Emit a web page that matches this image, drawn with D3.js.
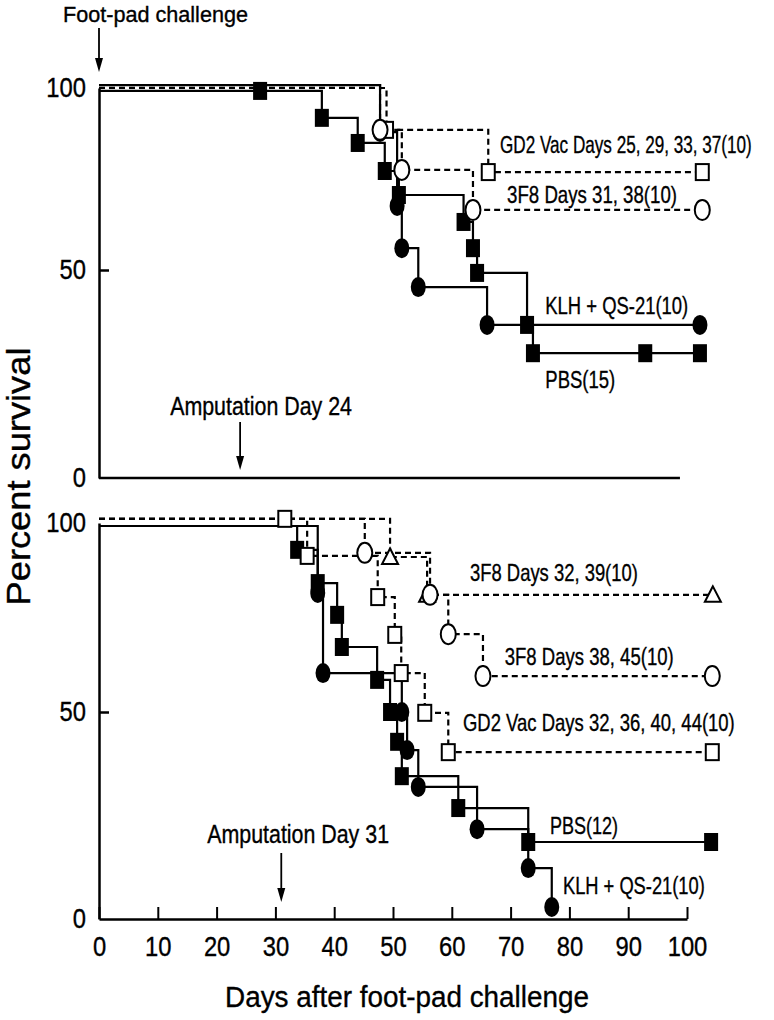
<!DOCTYPE html>
<html><head><meta charset="utf-8">
<script src="https://cdn.jsdelivr.net/npm/d3@7"></script>
<style>
body{margin:0;background:#fff}
svg text{font-family:"Liberation Sans",Arial,Helvetica,sans-serif;fill:#000;stroke:#000;stroke-width:0.35px}
</style>
</head><body>
<svg id="chart" width="774" height="1020"></svg>
<script>
// ---------- data ----------
const dayTicks = [0, 10, 20, 30, 40, 50, 60, 70, 80, 90, 100];
const survTicks = [0, 50, 100];

// Upper panel (amputation day 24)
const topPbsDay  = [0, 27.4, 37.9, 44.0, 48.6, 51.0, 62.0, 63.6, 64.3, 72.8, 73.8, 92.9, 102.2];
const topPbsSurv = [99.2, 99.2, 91.8, 84.9, 77.2, 70.6, 63.2, 56.0, 49.3, 36.8, 30.0, 30.0, 30.0];
const topKlhDay  = [0, 47.8, 50.7, 51.5, 54.3, 66.0, 102.2];
const topKlhSurv = [100.8, 87.9, 67.6, 56.0, 45.9, 36.8, 36.8];
const topGd2Day  = [0, 48.9, 66.2, 102.6];
const topGd2Surv = [100, 88.5, 76.9, 76.9];
const top3f8Day  = [0, 47.8, 51.5, 63.6, 102.6];
const top3f8Surv = [100.8, 88.5, 77.5, 66.5, 66.5];

// Lower panel (amputation day 31)
const botPbsDay  = [0, 33.7, 37.2, 40.5, 41.3, 47.3, 49.5, 50.7, 51.5, 61.1, 73.0, 104.1];
const botPbsSurv = [99.2, 92.9, 84.1, 75.7, 67.2, 58.5, 50.0, 42.8, 34.5, 26.8, 18.6, 18.6];
const botKlhDay  = [0, 37.2, 38.1, 51.5, 52.4, 54.3, 64.3, 73.0, 77.0];
const botKlhSurv = [99.2, 81.5, 60.3, 50.0, 40.8, 31.9, 21.7, 12.3, 2.9];
const botGd2Day  = [0, 31.6, 35.4, 47.4, 50.3, 51.4, 55.4, 59.4, 104.3];
const botGd2Surv = [101.1, 101.1, 91.3, 80.4, 70.4, 60.3, 49.8, 40.3, 40.3];
const bot3f8aDay  = [0, 49.5, 55.8, 104.4];
const bot3f8aSurv = [101.1, 91.0, 81.0, 81.0];
const bot3f8bDay  = [0, 45.2, 56.3, 59.4, 65.3, 104.3];
const bot3f8bSurv = [101.1, 92.1, 81.0, 70.6, 59.5, 59.5];

const topLabels = ["GD2 Vac Days 25, 29, 33, 37(10)", "3F8 Days 31, 38(10)", "KLH + QS-21(10)", "PBS(15)"];
const botLabels = ["3F8 Days 32, 39(10)", "3F8 Days 38, 45(10)", "GD2 Vac Days 32, 36, 40, 44(10)", "PBS(12)", "KLH + QS-21(10)"];
const eventLabels = ["Foot-pad challenge", "Amputation Day 24", "Amputation Day 31"];
const axisTitles = ["Percent survival", "Days after foot-pad challenge"];

// ---------- layout ----------
const svg = d3.select("#chart");
const x = d3.scaleLinear().domain([0, 100]).range([99, 687]);
const yTop = d3.scaleLinear().domain([0, 50, 100]).range([478, 270, 88]);
const yBot = d3.scaleLinear().domain([0, 50, 100]).range([919, 712, 523]);

const zip = (a, b) => a.map((d, i) => [d, b[i]]);

function condense(sel, k) {
  sel.each(function () {
    const w = this.getComputedTextLength();
    d3.select(this).attr("textLength", w * k).attr("lengthAdjust", "spacingAndGlyphs");
  });
}
// text squeezed horizontally to a measured width (condensed face of the original)
function fitText(g, txt, px, py, size, width, anchor, rot) {
  const t = g.append("text").attr("font-size", size).attr("text-anchor", anchor || "start").text(txt);
  const k = width / t.node().getComputedTextLength();
  t.attr("transform", `translate(${px},${py})${rot ? " rotate(" + rot + ")" : ""} scale(${k},1)`);
  return t;
}

function drawMarker(g, shape, filled, cx, cy) {
  if (shape === "square") {
    if (filled) g.append("rect").attr("x", cx - 7).attr("y", cy - 9).attr("width", 14).attr("height", 18).attr("fill", "#000");
    else g.append("rect").attr("x", cx - 6.5).attr("y", cy - 8).attr("width", 13).attr("height", 16)
      .attr("fill", "#fff").attr("stroke", "#000").attr("stroke-width", 2);
  } else if (shape === "circle") {
    if (filled) g.append("ellipse").attr("cx", cx).attr("cy", cy).attr("rx", 7.5).attr("ry", 10).attr("fill", "#000");
    else g.append("ellipse").attr("cx", cx).attr("cy", cy).attr("rx", 7.5).attr("ry", 10)
      .attr("fill", "#fff").attr("stroke", "#000").attr("stroke-width", 2);
  } else {
    g.append("path").attr("d", `M${cx},${cy - 8.5}L${cx - 8},${cy + 7}L${cx + 8},${cy + 7}Z`)
      .attr("fill", "#fff").attr("stroke", "#000").attr("stroke-width", 2);
  }
}

function drawSeries(y, list) {
  const g = svg.append("g");
  const ln = d3.line().x(d => x(d[0])).y(d => y(d[1])).curve(d3.curveStepAfter);
  list.forEach(s => {
    g.append("path").datum(s.pts).attr("d", ln).attr("fill", "none")
      .attr("stroke", "#000").attr("stroke-width", 2.2)
      .attr("stroke-dasharray", s.dashed ? "6,4" : null);
  });
  list.forEach(s => {
    s.pts.slice(1).forEach(p => drawMarker(g, s.shape, s.filled, x(p[0]), y(p[1])));
  });
}

function drawYAxis(y) {
  const g = svg.append("g").attr("transform", `translate(${x(0)},0)`)
    .call(d3.axisLeft(y).tickValues(survTicks).tickSize(-10).tickSizeOuter(0).tickPadding(13).tickFormat(d3.format("d")));
  g.select(".domain").attr("stroke-width", 2.5);
  g.selectAll(".tick line").attr("stroke-width", 2.5);
  g.selectAll(".tick line").filter(d => d !== 50).remove();
  g.selectAll("text").attr("font-size", 27).attr("font-family", null);
  condense(g.selectAll("text"), 0.88);
  return g;
}

// ---------- upper panel ----------
drawYAxis(yTop);
svg.append("line").attr("x1", x(0)).attr("x2", x(98.8)).attr("y1", yTop(0)).attr("y2", yTop(0))
  .attr("stroke", "#000").attr("stroke-width", 2.5);

drawSeries(yTop, [
  {pts: zip(topPbsDay, topPbsSurv), shape: "square", filled: true, dashed: false},
  {pts: zip(topKlhDay, topKlhSurv), shape: "circle", filled: true, dashed: false},
  {pts: zip(topGd2Day, topGd2Surv), shape: "square", filled: false, dashed: true},
  {pts: zip(top3f8Day, top3f8Surv), shape: "circle", filled: false, dashed: true}
]);

const ann = svg.append("g");
fitText(ann, topLabels[0], x(68.2), yTop(82.1), 24, 252);
fitText(ann, topLabels[1], x(69.4), yTop(68.4), 24, 170);
fitText(ann, topLabels[2], x(75.9), yTop(39.4), 24, 143);
fitText(ann, topLabels[3], x(75.9), yTop(21.6), 24, 70);

// ---------- lower panel ----------
drawYAxis(yBot);
const xa = svg.append("g").attr("transform", `translate(0,${yBot(0)})`)
  .call(d3.axisBottom(x).tickValues(dayTicks).tickSize(-12).tickSizeOuter(0).tickPadding(18));
xa.select(".domain").attr("stroke-width", 2.5);
xa.selectAll(".tick line").attr("stroke-width", 2);
xa.selectAll("text").attr("font-size", 27).attr("font-family", null);
condense(xa.selectAll("text"), 0.88);

drawSeries(yBot, [
  {pts: zip(botPbsDay, botPbsSurv), shape: "square", filled: true, dashed: false},
  {pts: zip(botKlhDay, botKlhSurv), shape: "circle", filled: true, dashed: false},
  {pts: zip(botGd2Day, botGd2Surv), shape: "square", filled: false, dashed: true},
  {pts: zip(bot3f8aDay, bot3f8aSurv), shape: "triangle", filled: false, dashed: true},
  {pts: zip(bot3f8bDay, bot3f8bSurv), shape: "circle", filled: false, dashed: true}
]);

fitText(ann, botLabels[0], x(63.1), yBot(84.7), 24, 168);
fitText(ann, botLabels[1], x(69.0), yBot(62.4), 24, 169);
fitText(ann, botLabels[2], x(61.9), yBot(45.4), 24, 272);
fitText(ann, botLabels[3], x(76.7), yBot(20.5), 24, 68);
fitText(ann, botLabels[4], x(78.9), yBot(6.0), 24, 142);

// ---------- event arrows ----------
function arrow(px, y1, y2) {
  svg.append("line").attr("x1", px).attr("x2", px).attr("y1", y1).attr("y2", y2 - 10)
    .attr("stroke", "#000").attr("stroke-width", 1.8);
  svg.append("path").attr("d", `M${px - 4},${y2 - 14}L${px + 4},${y2 - 14}L${px},${y2}Z`).attr("fill", "#000");
}
fitText(ann, eventLabels[0], x(0) - 36, yTop(100) - 66, 22, 185);
arrow(x(0), yTop(100) - 60, yTop(100) - 16);
fitText(ann, eventLabels[1], x(12.1), yTop(15.1), 25, 182);
arrow(x(24), yTop(0) - 56, yTop(0) - 8);
fitText(ann, eventLabels[2], x(18.4), yBot(18.4), 25, 182);
arrow(x(31), yBot(0) - 66, yBot(0) - 17);

// ---------- axis titles ----------
fitText(svg, axisTitles[0], 30, (yTop(0) + yBot(100)) / 2 - 24, 33, 258, "middle", -90);
fitText(svg, axisTitles[1], (x(0) + x(100)) / 2 + 14, yBot(0) + 88, 30, 364, "middle");
</script>
</body></html>
